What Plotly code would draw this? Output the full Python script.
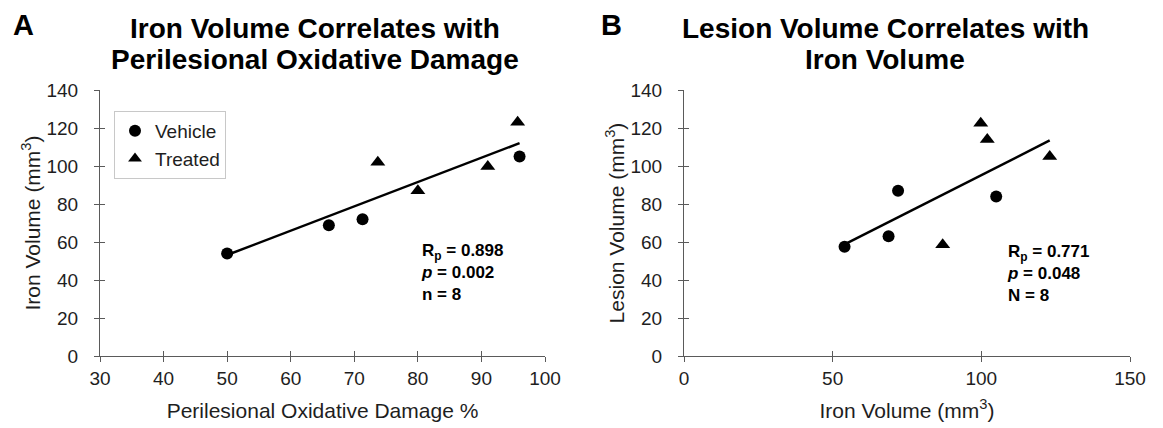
import numpy as np
import plotly.graph_objects as go

# ---------------- data ----------------
# Panel A: Perilesional oxidative damage (%) vs iron volume (mm3)
a_vehicle_x = [50.0, 66.0, 71.3, 96.0]
a_vehicle_y = [54.0, 68.8, 72.0, 105.0]
a_treated_x = [73.7, 80.0, 91.0, 95.7]
a_treated_y = [102.0, 87.0, 99.8, 123.0]

# Panel B: Iron volume (mm3) vs lesion volume (mm3)
b_vehicle_x = [54.0, 68.8, 72.0, 105.0]
b_vehicle_y = [57.5, 63.0, 87.0, 84.0]
b_treated_x = [87.0, 99.8, 102.0, 123.0]
b_treated_y = [58.5, 122.5, 114.0, 105.0]

a_xticks = [30, 40, 50, 60, 70, 80, 90, 100]
b_xticks = [0, 50, 100, 150]
yticks = [0, 20, 40, 60, 80, 100, 120, 140]

titles_a = ["Iron Volume Correlates with", "Perilesional Oxidative Damage"]
titles_b = ["Lesion Volume Correlates with", "Iron Volume"]
stats_a = ["R<sub>p</sub> = 0.898", "<i>p</i> = 0.002", "n = 8"]
stats_b = ["R<sub>p</sub> = 0.771", "<i>p</i> = 0.048", "N = 8"]

FONT = "Liberation Sans, Arial, sans-serif"
TXT = "#1e1e1e"
AX = "#5a5a5a"
W, H = 1163, 428


def px(xp):
    return xp / W


def py(yp):
    return 1 - yp / H


def fit_line(xs, ys):
    xs = np.asarray(xs, float)
    ys = np.asarray(ys, float)
    m, b = np.polyfit(xs, ys, 1)
    xx = np.array([xs.min(), xs.max()])
    return xx, m * xx + b


fig = go.Figure()

mk_c = dict(symbol="circle", size=12, color="black")
mk_t = dict(symbol="triangle-up", size=13, color="black")

# Panel A
ax_all = a_vehicle_x + a_treated_x
ay_all = a_vehicle_y + a_treated_y
lx, ly = fit_line(ax_all, ay_all)
fig.add_trace(go.Scatter(x=lx, y=ly, mode="lines", line=dict(color="black", width=2.5),
                         showlegend=False, xaxis="x", yaxis="y", hoverinfo="skip"))
fig.add_trace(go.Scatter(x=a_vehicle_x, y=a_vehicle_y, mode="markers", marker=mk_c,
                         name="Vehicle", xaxis="x", yaxis="y"))
fig.add_trace(go.Scatter(x=a_treated_x, y=a_treated_y, mode="markers", marker=mk_t,
                         name="Treated", xaxis="x", yaxis="y"))

# Panel B
bx_all = b_vehicle_x + b_treated_x
by_all = b_vehicle_y + b_treated_y
lx, ly = fit_line(bx_all, by_all)
fig.add_trace(go.Scatter(x=lx, y=ly, mode="lines", line=dict(color="black", width=2.5),
                         showlegend=False, xaxis="x2", yaxis="y2", hoverinfo="skip"))
fig.add_trace(go.Scatter(x=b_vehicle_x, y=b_vehicle_y, mode="markers", marker=mk_c,
                         showlegend=False, xaxis="x2", yaxis="y2"))
fig.add_trace(go.Scatter(x=b_treated_x, y=b_treated_y, mode="markers", marker=mk_t,
                         showlegend=False, xaxis="x2", yaxis="y2"))

# overlay axes (inside ticks, to make cross ticks)
fig.add_trace(go.Scatter(x=[], y=[], xaxis="x3", yaxis="y3", showlegend=False))
fig.add_trace(go.Scatter(x=[], y=[], xaxis="x4", yaxis="y4", showlegend=False))

dom_a = [px(100), px(545)]
dom_b = [px(684), px(1130)]
dom_y = [py(356), py(90)]

tickfont = dict(family=FONT, size=19, color=TXT)
titlefont = dict(family=FONT, size=21, color=TXT)

common_x = dict(showgrid=False, zeroline=False, showline=True, linecolor=AX, linewidth=1,
                ticks="outside", ticklen=5, tickcolor=AX, tickwidth=1, tickfont=tickfont,
                ticklabelstandoff=0, automargin=False)
common_y = dict(showgrid=False, zeroline=False, showline=True, linecolor=AX, linewidth=1,
                ticks="outside", ticklen=5, tickcolor=AX, tickwidth=1, tickfont=tickfont,
                ticklabelstandoff=12, range=[0, 140], tickvals=yticks, automargin=False)
over = dict(showgrid=False, zeroline=False, showline=False, ticks="inside", ticklen=5,
            tickcolor=AX, tickwidth=1, showticklabels=False, automargin=False)

fig.update_layout(
    width=W, height=H, margin=dict(l=0, r=0, t=0, b=0, pad=0, autoexpand=False),
    paper_bgcolor="white", plot_bgcolor="white",
    xaxis=dict(domain=dom_a, anchor="y", range=[30, 100], tickvals=a_xticks,
               title=dict(text="Perilesional Oxidative Damage %", font=titlefont, standoff=15),
               **common_x),
    yaxis=dict(domain=dom_y, anchor="x",
               title=dict(text="Iron Volume (mm<sup>3</sup>)", font=titlefont, standoff=0),
               **common_y),
    xaxis2=dict(domain=dom_b, anchor="y2", range=[0, 150], tickvals=b_xticks,
                title=dict(text="Iron Volume (mm<sup>3</sup>)", font=titlefont, standoff=15),
                **common_x),
    yaxis2=dict(domain=dom_y, anchor="x2",
                title=dict(text="Lesion Volume (mm<sup>3</sup>)", font=titlefont, standoff=0),
                **common_y),
    xaxis3=dict(overlaying="x", anchor="y", range=[30, 100], tickvals=a_xticks, **over),
    yaxis3=dict(overlaying="y", anchor="x", range=[0, 140], tickvals=yticks, **over),
    xaxis4=dict(overlaying="x2", anchor="y2", range=[0, 150], tickvals=b_xticks, **over),
    yaxis4=dict(overlaying="y2", anchor="x2", range=[0, 140], tickvals=yticks, **over),
    legend=dict(x=px(114), y=py(111), xanchor="left", yanchor="top",
                bordercolor="#c8c8c8", borderwidth=1, bgcolor="white",
                font=dict(family=FONT, size=19, color=TXT), tracegroupgap=0,
                itemsizing="constant"),
    showlegend=True,
)

ann = []
# panel letters
ann.append(dict(text="<b>A</b>", x=px(23), y=py(25), xref="paper", yref="paper",
                xanchor="center", yanchor="middle",
                showarrow=False, font=dict(family=FONT, size=29, color="black")))
ann.append(dict(text="<b>B</b>", x=px(611), y=py(25), xref="paper", yref="paper",
                xanchor="center", yanchor="middle",
                showarrow=False, font=dict(family=FONT, size=29, color="black")))
# titles (two lines each)
for t, yy in zip(titles_a, [28.7, 59.5]):
    ann.append(dict(text="<b>" + t + "</b>", x=px(315), y=py(yy), xref="paper", yref="paper",
                    xanchor="center", yanchor="middle",
                    showarrow=False, font=dict(family=FONT, size=28, color="black")))
for t, yy in zip(titles_b, [28.7, 59.5]):
    ann.append(dict(text="<b>" + t + "</b>", x=px(885), y=py(yy), xref="paper", yref="paper",
                    xanchor="center", yanchor="middle",
                    showarrow=False, font=dict(family=FONT, size=28, color="black")))
# stats
ann.append(dict(text="<br>".join("<b>" + s + "</b>" for s in stats_a), x=px(419), y=py(239),
                xref="paper", yref="paper", xanchor="left", yanchor="top", align="left",
                showarrow=False, font=dict(family=FONT, size=17, color="black")))
ann.append(dict(text="<br>".join("<b>" + s + "</b>" for s in stats_b), x=px(1005), y=py(240),
                xref="paper", yref="paper", xanchor="left", yanchor="top", align="left",
                showarrow=False, font=dict(family=FONT, size=17, color="black")))
fig.update_layout(annotations=ann)

fig.write_html("out.html")
